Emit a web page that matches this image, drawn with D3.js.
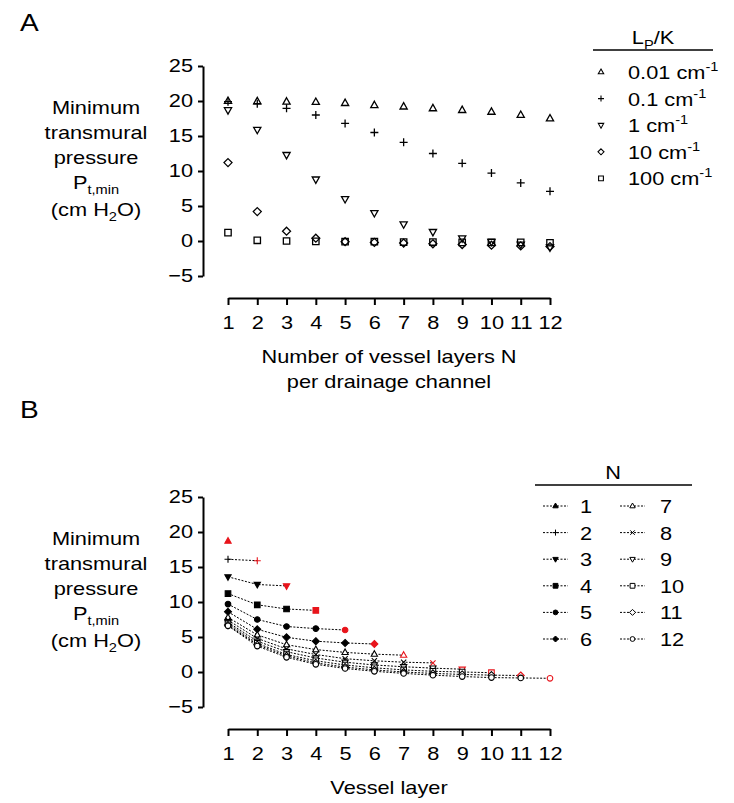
<!DOCTYPE html>
<html>
<head>
<meta charset="utf-8">
<script src="https://cdn.jsdelivr.net/npm/d3@7"></script>
<style>
  body { margin: 0; background: #fff; }
  svg text { font-family: "Liberation Sans", Arial, sans-serif; fill: #000; }
</style>
</head>
<body>
<div id="chart"></div>
<script>
// ---------- data ----------
const layers = [1, 2, 3, 4, 5, 6, 7, 8, 9, 10, 11, 12];
const yTicks = [-5, 0, 5, 10, 15, 20, 25];

// panel A: minimum transmural pressure vs N, one series per Lp/K
const lpkLabels = ["0.01", "0.1", "1", "10", "100"];
const lpkShapes = ["tri", "plus", "triDown", "diamond", "square"];
const ptLpk001 = [20.0, 19.95, 19.9, 19.85, 19.7, 19.4, 19.2, 18.95, 18.7, 18.45, 18.0, 17.5];
const ptLpk01  = [19.9, 19.6, 18.95, 18.0, 16.8, 15.5, 14.1, 12.5, 11.1, 9.7, 8.3, 7.1];
const ptLpk1   = [18.7, 15.9, 12.3, 8.8, 6.0, 4.0, 2.4, 1.3, 0.4, -0.1, -0.5, -0.9];
const ptLpk10  = [11.2, 4.2, 1.4, 0.4, -0.1, -0.2, -0.3, -0.4, -0.5, -0.6, -0.7, -0.8];
const ptLpk100 = [1.2, 0.1, 0.0, -0.05, -0.1, -0.1, -0.15, -0.15, -0.2, -0.2, -0.2, -0.25];
const seriesA = [ptLpk001, ptLpk01, ptLpk1, ptLpk10, ptLpk100];

// panel B: profile along the vessel layers, one series per N
const nLabels = ["1","2","3","4","5","6","7","8","9","10","11","12"];
const nShapes = ["tri","plus","triDown","square","circle","diamond","tri","cross","triDown","square","diamond","circle"];
const nFilled = [true, false, true, true, true, true, false, false, false, false, false, false];
const profN1  = [18.7];
const profN2  = [16.1, 15.9];
const profN3  = [13.6, 12.5, 12.3];
const profN4  = [11.2, 9.6, 9.0, 8.8];
const profN5  = [9.7, 7.5, 6.5, 6.2, 6.0];
const profN6  = [8.6, 6.1, 4.95, 4.4, 4.15, 4.0];
const profN7  = [7.8, 5.3, 3.9, 3.2, 2.8, 2.55, 2.4];
const profN8  = [7.4, 4.8, 3.3, 2.5, 1.9, 1.6, 1.4, 1.3];
const profN9  = [7.1, 4.4, 2.9, 2.0, 1.4, 1.0, 0.75, 0.55, 0.4];
const profN10 = [6.9, 4.1, 2.5, 1.6, 1.0, 0.6, 0.3, 0.1, 0.0, -0.1];
const profN11 = [6.7, 3.9, 2.3, 1.3, 0.7, 0.3, 0.0, -0.2, -0.35, -0.45, -0.5];
const profN12 = [6.6, 3.7, 2.1, 1.1, 0.5, 0.1, -0.2, -0.45, -0.65, -0.8, -0.85, -0.9];
const seriesB = [profN1, profN2, profN3, profN4, profN5, profN6, profN7, profN8, profN9, profN10, profN11, profN12];

// ---------- svg ----------
const width = 734, height = 803;
const svg = d3.select("#chart").append("svg")
    .attr("width", width).attr("height", height);

const FS = 18.6;   // text size
const SX = 1.17;   // the figure's type is a bit wide, stretch horizontally

// text helper: parts = [[string, "sub"|"sup"|null], ...]
function label(parent, x, y, anchor, parts, size) {
  const g = parent.append("g").attr("transform", `translate(${x},${y}) scale(${SX},1)`);
  const t = g.append("text").attr("text-anchor", anchor).style("font-size", (size || FS) + "px");
  let shift = 0;
  parts.forEach(([s, kind]) => {
    const want = kind === "sub" ? 5 : kind === "sup" ? -8 : 0;
    const sp = t.append("tspan").attr("dy", want - shift).text(s);
    if (kind) sp.style("font-size", "12.5px");
    shift = want;
  });
  return g;
}

// marker path for a shape of radius r
function shapePath(kind, r) {
  const p = d3.path();
  if (kind === "tri") {
    p.moveTo(0, -r); p.lineTo(r*0.9, r*0.6); p.lineTo(-r*0.9, r*0.6); p.closePath();
  } else if (kind === "triDown") {
    p.moveTo(0, r); p.lineTo(r*0.9, -r*0.6); p.lineTo(-r*0.9, -r*0.6); p.closePath();
  } else if (kind === "plus") {
    p.moveTo(-r, 0); p.lineTo(r, 0); p.moveTo(0, -r); p.lineTo(0, r);
  } else if (kind === "cross") {
    const q = r*0.75;
    p.moveTo(-q, -q); p.lineTo(q, q); p.moveTo(-q, q); p.lineTo(q, -q);
  } else if (kind === "diamond") {
    p.moveTo(0, -r); p.lineTo(r, 0); p.lineTo(0, r); p.lineTo(-r, 0); p.closePath();
  } else if (kind === "square") {
    const s = r*0.8;
    p.rect(-s, -s, 2*s, 2*s);
  } else {
    p.arc(0, 0, r*0.8, 0, 2*Math.PI);
  }
  return p.toString();
}

function drawAxes(g, x, y, xAxisY, xTitleLines, yTitleTop) {
  const ya = g.append("g")
      .attr("transform", `translate(${x.range()[0] - 25},0)`)
      .call(d3.axisLeft(y).tickValues(yTicks).tickSize(5).tickSizeOuter(0).tickPadding(3.5));
  const xa = g.append("g")
      .attr("transform", `translate(0,${xAxisY})`)
      .call(d3.axisBottom(x).tickValues(layers).tickSize(7).tickSizeOuter(0).tickPadding(11));
  [ya, xa].forEach(a => {
    a.selectAll("path, line").attr("stroke", "#000").attr("stroke-width", 2);
    a.selectAll("text").style("font-size", FS + "px").attr("fill", "#000")
      .attr("transform", `scale(${SX},1)`);
  });

  // y title
  const cx = 96;
  label(g, cx, yTitleTop, "middle", [["Minimum"]]);
  label(g, cx, yTitleTop + 25, "middle", [["transmural"]]);
  label(g, cx, yTitleTop + 50, "middle", [["pressure"]]);
  label(g, cx, yTitleTop + 75, "middle", [["P"], ["t,min", "sub"]]);
  label(g, cx, yTitleTop + 102, "middle", [["(cm H"], ["2", "sub"], ["O)"]]);

  // x title
  const xc = (x.range()[0] + x.range()[1]) / 2;
  xTitleLines.forEach((t, i) => label(g, xc, xAxisY + 65 + i * 25, "middle", [[t]]));
}

// ---------- panel A ----------
const xA = d3.scaleLinear().domain([1, 12]).range([228, 550]);
const yA = d3.scaleLinear().domain([-5, 25]).range([276, 66]);
const gA = svg.append("g");

label(svg, 20, 31, "start", [["A"]], 24);
drawAxes(gA, xA, yA, 298, ["Number of vessel layers N", "per drainage channel"], 114);

seriesA.forEach((vals, si) => {
  gA.append("g").selectAll("path")
    .data(vals.map((v, i) => ({n: layers[i], v})))
    .join("path")
    .attr("transform", d => `translate(${xA(d.n)},${yA(d.v)})`)
    .attr("d", shapePath(lpkShapes[si], 4))
    .attr("fill", "none")
    .attr("stroke", "#000")
    .attr("stroke-width", 1.3);
});

// legend A
const legA = svg.append("g");
label(legA, 653, 44, "middle", [["L"], ["P", "sub"], ["/K"]]);
legA.append("line").attr("x1", 593).attr("x2", 713).attr("y1", 50).attr("y2", 50)
    .attr("stroke", "#000").attr("stroke-width", 1.5);
lpkLabels.forEach((lab, i) => {
  const cy = 72 + i * 26.6;
  legA.append("path").attr("transform", `translate(601,${cy})`)
    .attr("d", shapePath(lpkShapes[i], 3))
    .attr("fill", "none").attr("stroke", "#000").attr("stroke-width", 1.1);
  label(legA, 628, cy + 7, "start", [[lab + " cm"], ["-1", "sup"]]);
});

// ---------- panel B ----------
const off = 431;
const xB = d3.scaleLinear().domain([1, 12]).range([228, 550]);
const yB = d3.scaleLinear().domain([-5, 25]).range([276 + off, 66 + off]);
const gB = svg.append("g");

label(svg, 20, 418, "start", [["B"]], 24);
drawAxes(gB, xB, yB, 298 + off, ["Vessel layer"], 114 + off);

const lineB = d3.line().x(d => xB(d.n)).y(d => yB(d.v));
const ptsB = seriesB.map(vals => vals.map((v, i) => ({n: layers[i], v})));

gB.append("g").selectAll("path")
  .data(ptsB)
  .join("path")
  .attr("d", lineB)
  .attr("fill", "none")
  .attr("stroke", "#000")
  .attr("stroke-width", 1)
  .attr("stroke-dasharray", "2,1.5");

ptsB.forEach((pts, si) => {
  gB.append("g").selectAll("path")
    .data(pts)
    .join("path")
    .attr("transform", d => `translate(${xB(d.n)},${yB(d.v)})`)
    .attr("d", shapePath(nShapes[si], 3.5))
    .attr("stroke", (d, i) => i === pts.length - 1 ? "#e8141b" : "#000")
    .attr("fill", (d, i) => nFilled[si] ? (i === pts.length - 1 ? "#e8141b" : "#000") : "#fff")
    .attr("stroke-width", 1.1);
});

// legend B
const legB = svg.append("g");
label(legB, 613, 479, "middle", [["N"]]);
legB.append("line").attr("x1", 535).attr("x2", 692).attr("y1", 485).attr("y2", 485)
    .attr("stroke", "#000").attr("stroke-width", 1.5);
nLabels.forEach((lab, i) => {
  const col = Math.floor(i / 6), row = i % 6;
  const cy = 506 + row * 26.6;
  const x0 = col === 0 ? 543 : 620;
  legB.append("line").attr("x1", x0).attr("x2", x0 + 25).attr("y1", cy).attr("y2", cy)
    .attr("stroke", "#000").attr("stroke-width", 1).attr("stroke-dasharray", "2,1.5");
  legB.append("path").attr("transform", `translate(${x0 + 12.5},${cy})`)
    .attr("d", shapePath(nShapes[i], 3))
    .attr("stroke", "#000").attr("stroke-width", 1)
    .attr("fill", nFilled[i] ? "#000" : "#fff");
  label(legB, col === 0 ? 580 : 660, cy + 7, "start", [[lab]]);
});
</script>
</body>
</html>
